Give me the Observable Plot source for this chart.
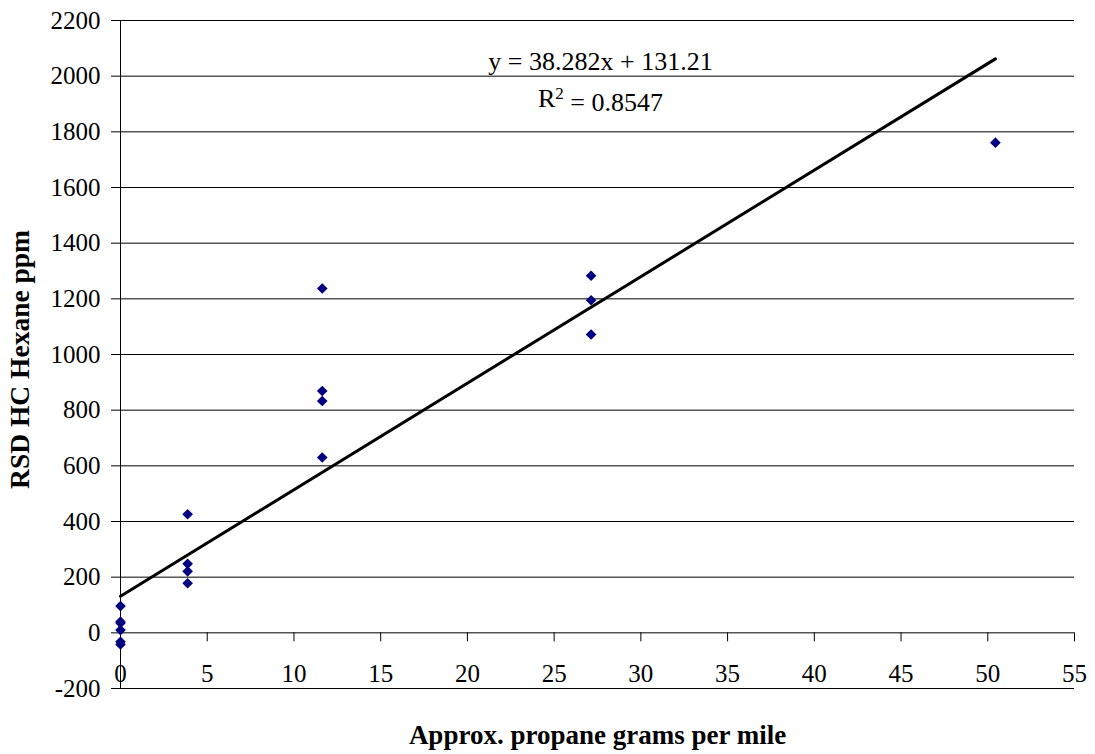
<!DOCTYPE html>
<html><head><meta charset="utf-8">
<script src="https://cdn.jsdelivr.net/npm/d3@7"></script>
<script src="https://cdn.jsdelivr.net/npm/@observablehq/plot@0.6"></script>
<style>body{margin:0;background:#fff}</style>
</head><body><div id="chart"></div>
<script>
// Data
const xValues = [0, 0, 0, 0, 0, 0, 3.87, 3.87, 3.87, 3.87, 11.63, 11.63, 11.63, 11.63, 27.13, 27.13, 27.13, 50.44];
const yValues = [96, 40, 35, 10, -32, -42, 426, 248, 221, 178, 1237, 869, 833, 630, 1283, 1195, 1072, 1761];
const slope = 38.282;
const intercept = 131.21;
const trendX = [0, 50.44];
const yTicks = [-200, 0, 200, 400, 600, 800, 1000, 1200, 1400, 1600, 1800, 2000, 2200];
const xTicks = [0, 5, 10, 15, 20, 25, 30, 35, 40, 45, 50, 55];
const equationText = "y = 38.282x + 131.21";
const r2Parts = ["R", "2", " = 0.8547"];
const xTitle = "Approx. propane grams per mile";
const yTitle = "RSD HC Hexane ppm";

const points = xValues.map((x, i) => ({x, y: yValues[i]}));
const trend = trendX.map(x => ({x, y: slope * x + intercept}));
const serif = "'Liberation Serif', 'Times New Roman', serif";
const r2Joined = r2Parts.join("");

const chart = Plot.plot({
  width: 1095, height: 754,
  marginLeft: 120, marginRight: 21, marginTop: 20, marginBottom: 66,
  x: {domain: [0, 55], axis: null},
  y: {domain: [-200, 2200], axis: null},
  style: {fontFamily: serif, fontSize: "25px", background: "#fff", color: "#000"},
  marks: [
    Plot.ruleY(yTicks, {y: d => d, stroke: "#000", strokeWidth: 1}),
    Plot.ruleX([0], {stroke: "#000", strokeWidth: 1}),
    Plot.axisY(yTicks, {tickSize: 9, tickPadding: 11, fontSize: 25, fontFamily: serif, label: null, tickFormat: d => String(d), stroke: "#000"}),
    Plot.ruleX(xTicks, {x: d => d, y1: 0, y2: 0, insetBottom: -9, stroke: "#000"}),
    Plot.text(xTicks, {x: d => d, y: 0, dy: 41, text: d => String(d), fontSize: 25, fontFamily: serif, fill: "#000"}),
    Plot.line(trend, {x: "x", y: "y", stroke: "#000", strokeWidth: 3}),
    Plot.dot(points, {x: "x", y: "y", symbol: "diamond2", r: 4.8, fill: "#000080", stroke: "none"}),
    Plot.text([equationText], {frameAnchor: "top", lineAnchor: "middle", textAnchor: "middle", dx: 3, dy: 41, text: d => d, fontSize: 26, fontFamily: serif, fill: "#000"}),
    Plot.text([r2Joined], {frameAnchor: "top", lineAnchor: "middle", textAnchor: "middle", dx: 3, dy: 78, text: d => d, fontSize: 26, fontFamily: serif, fill: "#000"}),
    Plot.text([xTitle], {frameAnchor: "bottom", lineAnchor: "middle", textAnchor: "middle", dy: 47, text: d => d, fontSize: 27, fontFamily: serif, fontWeight: "bold", fill: "#000"}),
    Plot.text([yTitle], {frameAnchor: "left", lineAnchor: "middle", textAnchor: "middle", rotate: -90, dx: -100, dy: 5, text: d => d, fontSize: 27.5, fontFamily: serif, fontWeight: "bold", fill: "#000"})
  ]
});

// Turn the "2" of R2 into a superscript
d3.select(chart).selectAll("text").filter(function() { return this.textContent === r2Joined; }).each(function() {
  const t = d3.select(this);
  t.text(null);
  t.append("tspan").text(r2Parts[0]);
  t.append("tspan").attr("dy", "-0.45em").attr("font-size", "17px").text(r2Parts[1]);
  t.append("tspan").attr("dy", "0.45em").text(r2Parts[2]);
});
document.getElementById("chart").append(chart);
</script>
</body></html>
